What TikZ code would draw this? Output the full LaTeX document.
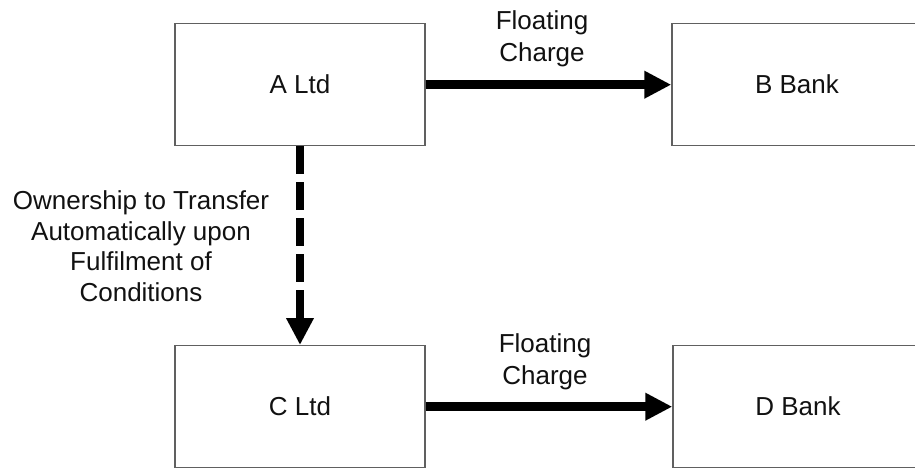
\documentclass[tikz,border=0pt]{standalone}
\usepackage{fontspec}
\setmainfont{Liberation Sans}
\usetikzlibrary{arrows.meta}
\definecolor{boxline}{HTML}{606060}
\definecolor{txt}{HTML}{111111}
\begin{document}
\begin{tikzpicture}[x=1pt,y=-1pt,
  entity/.style={draw=boxline, line width=1.4pt, rectangle, inner sep=0pt,
    minimum height=122pt, text=txt, font=\fontsize{26}{31}\selectfont},
  charge/.style={line width=8.5pt, -{Triangle[length=27pt,width=26pt]}},
  transfer/.style={line width=8.5pt, dash pattern=on 28pt off 8pt, -{Triangle[length=27pt,width=26pt]}},
  lbl/.style={inner sep=0pt, align=center, anchor=north, text=txt}
]
\useasboundingbox (0,0) rectangle (915,468);
\node[entity, minimum width=250pt] (a) at (300,84.7) {A Ltd};
\node[entity, minimum width=250pt] (b) at (797,84.7) {B Bank};
\node[entity, minimum width=250pt] (c) at (300,406.7) {C Ltd};
\node[entity, minimum width=250pt] (d) at (798,406.7) {D Bank};

\draw[charge] (a.east) -- (b.west);
\draw[charge] (c.east) -- (d.west);
\draw[transfer] (a.south) -- (c.north);

\node[lbl, font=\fontsize{26}{32}\selectfont] (l1) at (542,10) {Floating\\Charge};
\node[lbl, font=\fontsize{26}{32}\selectfont] (l2) at (545,333) {Floating\\Charge};
\node[lbl, font=\fontsize{26}{30.5}\selectfont] (l3) at (141,190.5) {Ownership to Transfer\\Automatically upon\\Fulfilment of\\Conditions};
\end{tikzpicture}
\end{document}
